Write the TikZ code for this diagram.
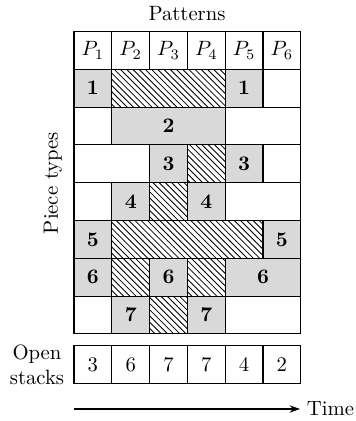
\documentclass[tikz,border=0pt]{standalone}
\usetikzlibrary{patterns,arrows.meta}
\newcommand\cw{18.26pt}
\tikzset{
  cellbox/.style={draw, line width=0.55pt, minimum height=\cw, inner sep=0pt, fill=white},
  grayc/.style={fill=gray!30},
  hatchc/.style={pattern=north west lines},
  whitec/.style={fill=white},
  lbl/.style={inner sep=0pt}
}
\newcommand\mycell[6]{\node[cellbox, minimum width=#4*\cw, #2] (#1) at ({74+37.8*(#3-1)+18.9*#4},{31.5+37.8*(#5+0.5)}) {#6};}
\begin{document}
\begin{tikzpicture}[x=0.483pt,y=-0.483pt]
\fill[white] (0,0) rectangle (355,421);
\useasboundingbox (0,0) rectangle (355,421);
% header
\mycell{h1}{whitec}{1}{1}{0}{$P_1$}
\mycell{h2}{whitec}{2}{1}{0}{$P_2$}
\mycell{h3}{whitec}{3}{1}{0}{$P_3$}
\mycell{h4}{whitec}{4}{1}{0}{$P_4$}
\mycell{h5}{whitec}{5}{1}{0}{$P_5$}
\mycell{h6}{whitec}{6}{1}{0}{$P_6$}
% row 1
\mycell{a1}{grayc}{1}{1}{1}{\textbf{1}}
\mycell{a2}{hatchc}{2}{3}{1}{}
\mycell{a3}{grayc}{5}{1}{1}{\textbf{1}}
\mycell{a4}{whitec}{6}{1}{1}{}
% row 2
\mycell{b1}{whitec}{1}{1}{2}{}
\mycell{b2}{grayc}{2}{3}{2}{\textbf{2}}
\mycell{b3}{whitec}{5}{2}{2}{}
% row 3
\mycell{c1}{whitec}{1}{2}{3}{}
\mycell{c2}{grayc}{3}{1}{3}{\textbf{3}}
\mycell{c3}{hatchc}{4}{1}{3}{}
\mycell{c4}{grayc}{5}{1}{3}{\textbf{3}}
\mycell{c5}{whitec}{6}{1}{3}{}
% row 4
\mycell{d1}{whitec}{1}{1}{4}{}
\mycell{d2}{grayc}{2}{1}{4}{\textbf{4}}
\mycell{d3}{hatchc}{3}{1}{4}{}
\mycell{d4}{grayc}{4}{1}{4}{\textbf{4}}
\mycell{d5}{whitec}{5}{2}{4}{}
% row 5
\mycell{e1}{grayc}{1}{1}{5}{\textbf{5}}
\mycell{e2}{hatchc}{2}{4}{5}{}
\mycell{e3}{grayc}{6}{1}{5}{\textbf{5}}
% row 6
\mycell{f1}{grayc}{1}{1}{6}{\textbf{6}}
\mycell{f2}{hatchc}{2}{1}{6}{}
\mycell{f3}{grayc}{3}{1}{6}{\textbf{6}}
\mycell{f4}{hatchc}{4}{1}{6}{}
\mycell{f5}{grayc}{5}{2}{6}{\textbf{6}}
% row 7
\mycell{g1}{whitec}{1}{1}{7}{}
\mycell{g2}{grayc}{2}{1}{7}{\textbf{7}}
\mycell{g3}{hatchc}{3}{1}{7}{}
\mycell{g4}{grayc}{4}{1}{7}{\textbf{7}}
\mycell{g5}{whitec}{5}{2}{7}{}
% open stacks
\foreach \v [count=\i] in {3,6,7,7,4,2}
  \node[cellbox, minimum width=\cw] (o\i) at ({74+37.8*(\i-1)+18.9},364.6) {\v};
% labels
\node (pat) at (187,14) {Patterns};
\node[rotate=90] (pt) at (53,183) {Piece types};
\node[align=center, inner sep=0pt] (os) at (37,364.6) {Open\\stacks};
\coordinate (ts) at (74,409);
\coordinate (te) at (300,409);
\draw[-{Stealth[length=5pt,width=3.5pt]}, line width=0.55pt] (ts) -- (te);
\node[anchor=east, inner sep=0pt] (tm) at (354.5,409) {Time};
\end{tikzpicture}
\end{document}
